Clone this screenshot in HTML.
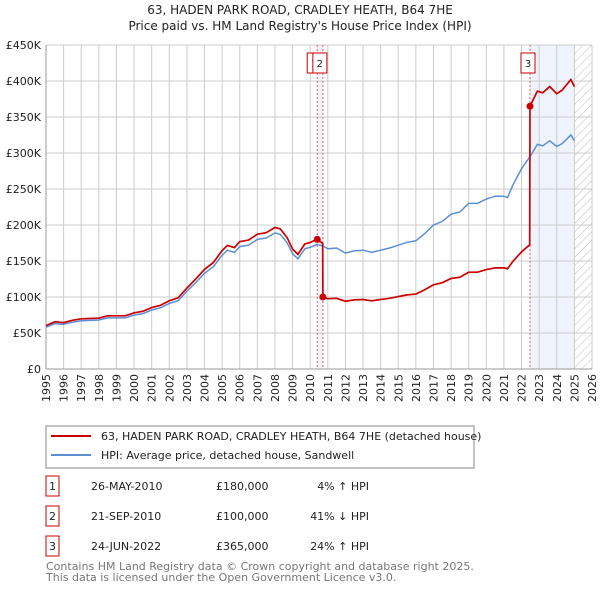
<!DOCTYPE html>
<html><head><meta charset="utf-8"><style>
body{margin:0;background:#fff;font-family:"Liberation Sans","DejaVu Sans",sans-serif;}
svg text{font-family:"DejaVu Sans","Liberation Sans",sans-serif;}
</style></head><body>
<svg id="c" width="600" height="590" xmlns="http://www.w3.org/2000/svg">
<text x="300" y="14" text-anchor="middle" font-size="12" fill="#222">63, HADEN PARK ROAD, CRADLEY HEATH, B64 7HE</text>
<text x="300" y="30" text-anchor="middle" font-size="12" fill="#222">Price paid vs. HM Land Registry's House Price Index (HPI)</text>
<g id="plot"></g>
<g>
<rect x="46" y="426" width="428" height="42" fill="#fff" stroke="#888"/>
<line x1="51" y1="436" x2="91" y2="436" stroke="#cc0000" stroke-width="2"/>
<text x="101" y="440" font-size="11" fill="#222">63, HADEN PARK ROAD, CRADLEY HEATH, B64 7HE (detached house)</text>
<line x1="51" y1="455" x2="91" y2="455" stroke="#5b8fd4" stroke-width="2"/>
<text x="101" y="459" font-size="11" fill="#222">HPI: Average price, detached house, Sandwell</text>
</g>
<g font-size="11" fill="#222">
<rect x="46" y="476" width="13" height="20" fill="#fff" stroke="#cc0000"/><text x="52.5" y="490" text-anchor="middle">1</text>
<text x="91" y="490">26-MAY-2010</text><text x="216" y="490">£180,000</text><text x="369" y="490" text-anchor="end">4% ↑ HPI</text>
<rect x="46" y="506" width="13" height="20" fill="#fff" stroke="#cc0000"/><text x="52.5" y="520" text-anchor="middle">2</text>
<text x="91" y="520">21-SEP-2010</text><text x="216" y="520">£100,000</text><text x="369" y="520" text-anchor="end">41% ↓ HPI</text>
<rect x="46" y="536" width="13" height="20" fill="#fff" stroke="#cc0000"/><text x="52.5" y="550" text-anchor="middle">3</text>
<text x="91" y="550">24-JUN-2022</text><text x="216" y="550">£365,000</text><text x="369" y="550" text-anchor="end">24% ↑ HPI</text>
</g>
<text x="46" y="570" font-size="11" fill="#777">Contains HM Land Registry data © Crown copyright and database right 2025.</text>
<text x="46" y="581" font-size="11" fill="#777">This data is licensed under the Open Government Licence v3.0.</text>
</svg>
<script>
const hpiYears=[1995,1995.5,1996,1996.5,1997,1998,1998.5,1999,1999.5,2000,2000.5,2001,2001.5,2002,2002.5,2003,2003.5,2004,2004.5,2005,2005.3,2005.7,2006,2006.5,2007,2007.5,2008,2008.3,2008.7,2009,2009.3,2009.7,2010,2010.4,2010.72,2011,2011.5,2012,2012.5,2013,2013.5,2014,2014.5,2015,2015.5,2016,2016.5,2017,2017.5,2018,2018.5,2019,2019.5,2020,2020.5,2021,2021.2,2021.5,2022,2022.48,2022.9,2023.2,2023.6,2024,2024.3,2024.8,2025];
const hpiValues=[58,63,62,65,67,68,71,71,71,75,77,82,85,91,95,108,120,133,142,158,165,162,170,172,180,182,189,187,175,160,153,167,169,173,171,167,168,161,164,165,162,165,168,172,176,178,188,200,205,215,218,230,230,236,240,240,238,255,278,295,312,310,317,309,313,325,317];
const saleYears=[2010.4,2010.72,2022.48];
const saleValues=[180,100,365];
const saleLabels=["1","2","3"];
const yTicks=[0,50,100,150,200,250,300,350,400,450];
const yTickLabels=["£0","£50K","£100K","£150K","£200K","£250K","£300K","£350K","£400K","£450K"];
const xTicks=[];for(let y=1995;y<=2026;y++)xTicks.push(y);

const X0=46,X1=592,Y0=369,Y1=45;
const xs=y=>X0+(y-1995)/(2026-1995)*(X1-X0);
const ys=v=>Y0-(v/450)*(Y0-Y1);
const NS="http://www.w3.org/2000/svg";
const g=document.getElementById('plot');
function mk(t,a){const e=document.createElementNS(NS,t);for(const k in a)e.setAttribute(k,a[k]);g.appendChild(e);return e;}
function hpiAt(y){for(let i=0;i<hpiYears.length-1;i++){if(y<=hpiYears[i+1]){const t=(y-hpiYears[i])/(hpiYears[i+1]-hpiYears[i]);return hpiValues[i]+t*(hpiValues[i+1]-hpiValues[i]);}}return hpiValues[hpiValues.length-1];}

let e=mk('rect',{x:xs(saleYears[0]),y:Y1,width:xs(saleYears[1])-xs(saleYears[0]),height:Y0-Y1,fill:'#eef3fc'});


e=mk('rect',{x:xs(saleYears[2]),y:Y1,width:xs(2025)-xs(saleYears[2]),height:Y0-Y1,fill:'#eef3fc'});


const defs=mk('defs',{});
defs.innerHTML='<pattern id="h" width="6" height="6" patternUnits="userSpaceOnUse" patternTransform="rotate(45)"><line x1="0" y1="0" x2="0" y2="6" stroke="#bbb" stroke-width="1"/></pattern>';
e=mk('rect',{x:xs(2025),y:Y1,width:X1-xs(2025),height:Y0-Y1,fill:'url(#h)'});


xTicks.forEach(y=>{
 const l=mk('line',{x1:xs(y),x2:xs(y),y1:Y1,y2:Y0,stroke:'#ccc','stroke-width':1});
 
 
 const t=mk('text',{x:0,y:0,'font-size':11,fill:'#222','text-anchor':'end',transform:`translate(${xs(y)+4},${Y0+5}) rotate(-90)`});
 t.textContent=y;
 
 
});
yTicks.forEach((v,i)=>{
 const l=mk('line',{x1:X0,x2:X1,y1:ys(v),y2:ys(v),stroke:'#ccc','stroke-width':1});
 
 
 const t=mk('text',{x:X0-5,y:ys(v)+4,'font-size':11,fill:'#222','text-anchor':'end'});
 t.textContent=yTickLabels[i];
 
 
});
mk('line',{x1:X0,x2:X0,y1:Y1,y2:Y0,stroke:'#999'});
mk('line',{x1:X0,x2:X1,y1:Y0,y2:Y0,stroke:'#999'});
saleYears.forEach(y=>{
 const l=mk('line',{x1:xs(y),x2:xs(y),y1:Y1,y2:Y0,stroke:'#e06060','stroke-dasharray':'2,2','stroke-width':1});
 
 
});
let d=hpiYears.map((y,i)=>(i?'L':'M')+xs(y).toFixed(1)+','+ys(hpiValues[i]).toFixed(1)).join('');
e=mk('path',{d:d,fill:'none',stroke:'#5b8fd4','stroke-width':1.5});


const pts=[];
const r0=saleValues[0]/hpiAt(saleYears[0]),r1=saleValues[1]/hpiAt(saleYears[1]),r2=saleValues[2]/hpiAt(saleYears[2]);
hpiYears.forEach((y,i)=>{if(y<saleYears[0])pts.push([y,hpiValues[i]*r0]);});
pts.push([saleYears[0],saleValues[0]]);pts.push([saleYears[1]-0.01,saleValues[0]*0.97]);pts.push([saleYears[1],saleValues[1]]);
hpiYears.forEach((y,i)=>{if(y>saleYears[1]&&y<saleYears[2])pts.push([y,hpiValues[i]*r1]);});
pts.push([saleYears[2]-0.02,hpiAt(saleYears[2])*r1]);pts.push([saleYears[2],saleValues[2]]);
hpiYears.forEach((y,i)=>{if(y>saleYears[2])pts.push([y,hpiValues[i]*r2]);});
d=pts.map((p,i)=>(i?'L':'M')+xs(p[0]).toFixed(1)+','+ys(p[1]).toFixed(1)).join('');
e=mk('path',{d:d,fill:'none',stroke:'#cc0000','stroke-width':1.7});


saleYears.forEach((y,i)=>{
 const c=mk('circle',{cx:xs(y),cy:ys(saleValues[i]),r:3.5,fill:'#cc0000'});
 
 
});
saleYears.forEach((y,i)=>{
 const bx=xs(y)-(i===0?10:i===1?10:9);
 const r=mk('rect',{x:bx,y:53,width:14,height:20,fill:'#fff',stroke:'#cc0000'});
 
 
 const t=mk('text',{x:bx+7,y:67,'font-size':10,fill:'#222','text-anchor':'middle'});
 t.textContent=saleLabels[i];
 
 
});
</script>
</body></html>
